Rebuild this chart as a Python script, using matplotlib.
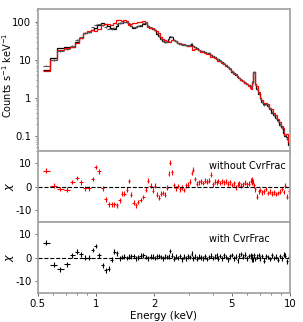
import numpy as np
import matplotlib
matplotlib.use('Agg')
import matplotlib.pyplot as plt
from matplotlib.ticker import FixedLocator, FixedFormatter, NullFormatter

plt.rcParams['axes.unicode_minus'] = False
plt.rcParams['font.family'] = 'DejaVu Sans'

# energy bin edges (keV)
edges = np.array([0.53, 0.58, 0.63, 0.68, 0.735, 0.775, 0.815, 0.86, 0.90, 0.94,
                  0.98, 1.015, 1.06, 1.10, 1.14, 1.185, 1.225, 1.26, 1.30, 1.345,
                  1.38, 1.42, 1.46, 1.50, 1.54, 1.585, 1.63, 1.67, 1.72, 1.78,
                  1.835, 1.885, 1.94, 1.985, 2.025, 2.08, 2.135, 2.185, 2.235, 2.285,
                  2.34, 2.39, 2.445, 2.50, 2.56, 2.62, 2.68, 2.74, 2.80, 2.865,
                  2.93, 3.0, 3.07, 3.14, 3.21, 3.285, 3.36, 3.44, 3.52, 3.60,
                  3.685, 3.77, 3.855, 3.945, 4.035, 4.13, 4.225, 4.32, 4.42, 4.52,
                  4.625, 4.73, 4.84, 4.95, 5.065, 5.18, 5.30, 5.42, 5.545, 5.675,
                  5.805, 5.94, 6.075, 6.215, 6.30, 6.36, 6.42, 6.48, 6.56, 6.65,
                  6.80, 6.96, 7.12, 7.28, 7.45, 7.62, 7.80, 7.98, 8.16, 8.35,
                  8.54, 8.74, 8.94, 9.15, 9.36, 9.57, 9.79, 10.0])

# observed spectrum (counts/s/keV)
counts = np.array([7.0, 9.8, 17.0, 19.0, 23.0, 33.0, 39.0, 50.0, 54.0, 71.0,
                   83.0, 85.0, 80.0, 72.0, 66.0, 64.0, 70.0, 85.0, 92.0, 95.0,
                   100.0, 98.0, 90.0, 78.0, 71.0, 72.0, 78.0, 80.0, 90.0, 92.0,
                   78.0, 71.0, 65.0, 60.0, 49.0, 42.0, 36.0, 31.0, 29.0,
                   30.0, 36.0, 42.0, 40.0, 33.0, 31.0, 28.0, 26.0, 25.0, 24.5,
                   24.3, 24.0, 24.5, 27.0, 23.0, 21.5, 20.0, 18.5, 17.3, 16.5,
                   15.8, 15.0, 15.2, 13.5, 12.5, 11.6, 10.9, 10.2, 9.6, 8.8,
                   8.0, 7.2, 6.5, 5.9, 5.0, 4.5, 4.1, 3.7, 3.35, 3.05,
                   2.8, 2.55, 2.35, 2.15, 2.0, 1.95, 2.6, 4.2, 4.8, 2.2,
                   1.7, 1.3, 0.95, 0.78, 0.66, 0.70, 0.62, 0.50, 0.43, 0.36,
                   0.30, 0.25, 0.20, 0.165, 0.135, 0.105, 0.085, 0.058])

# fractional errors
frac_err = np.array([0.04] * 39 + [0.03] * 44 + [0.04] * 10 + [0.05] * 8 + [0.08] * 6)

# residuals (chi) for both fits
res_without = np.array([6.7, 0.3, -1.1, -1.4, 1.9, 3.6, 1.7, -0.7, -0.7, 3.2,
                        8.3, 6.4, -0.7, -5.4, -7.6, -7.6, -7.6, -7.9, -5.9, -3.0,
                        -3.0, -1.4, 2.3, -3.5, -6.9, -7.9, -6.6, -5.7, -4.4, -1.4,
                        2.4, 0.3, -1.8, 0.3, -3.5, -4.8, -3.1, -2.7, -3.5,
                        -0.5, 5.4, 10.0, 6.0, 0.5, -0.8, 0.2, -1.2, -0.5, -1.5,
                        0.5, 0.8, 2.1, 5.7, 7.1, 3.2, 1.2, 1.8, 2.2, 1.5,
                        2.5, 2.0, 2.4, 5.0, 1.0, 2.0, 1.8, 2.3, 1.5, 2.2,
                        1.7, 2.0, 1.2, 1.8, 0.6, 1.4, -0.3, 0.8, 1.3, 0.4,
                        1.0, 1.6, 0.9, 1.2, 2.5, 3.0, 1.5, 2.2, 0.5, -1.2,
                        -4.3, -2.0, -1.5, -2.5, -2.0, -1.0, -2.8, -2.2, -3.0, -2.5,
                        -3.2, -2.7, -2.2, -1.0, -2.3, 0.3, -4.3, -2.0])
res_with = np.array([6.3, -3.0, -5.0, -2.8, 1.0, 2.4, 1.3, -0.1, -0.1, 3.2,
                     4.9, 1.0, -3.3, -5.4, -4.7, -0.9, 2.4, 1.7, -0.4, 0.2,
                     0.3, -0.2, 0.4, 0.5, 0.6, -0.3, 0.1, 0.8, 0.9, 0.2,
                     -0.3, 0.3, 0.4, -0.2, 0.5, 0.6, 0.2, -0.4, 0.3,
                     0.2, 0.5, 2.7, 0.8, -0.5, 0.3, -0.2, 0.6, -0.8, 0.4,
                     -0.3, 0.5, 0.2, 1.6, -0.4, 0.3, -0.5, 0.4, 0.1, -0.3,
                     0.5, -0.6, 0.2, 0.8, -0.2, 0.4, 0.9, -0.5, 0.6, -0.3,
                     1.0, 0.2, -0.7, 0.5, 1.1, -0.4, 0.3, -1.2, 0.7, 1.5,
                     0.4, 1.2, -0.3, 0.6, 1.0, -0.8, 0.4, -1.0, 0.9, -0.6,
                     0.3, 1.1, -0.4, 0.6, -1.3, 0.5, 0.2, -0.6, 0.9, -0.2,
                     0.4, -0.9, 0.6, -0.3, 1.2, 0.8, -1.6, 0.4])

cen = np.sqrt(edges[:-1] * edges[1:])
xerr = [cen - edges[:-1], edges[1:] - cen]
err = counts * frac_err
model_without = counts - res_without * err
model_with = counts - res_with * err

fig = plt.figure(figsize=(3.03, 3.22), dpi=100)
L, W = 0.1245, 0.8327
ax1 = fig.add_axes([L, 0.531, W, 0.441])
ax2 = fig.add_axes([L, 0.3106, W, 0.2204], sharex=ax1)
ax3 = fig.add_axes([L, 0.09, W, 0.2206], sharex=ax1)

ax1.errorbar(cen, counts, xerr=xerr, yerr=err, fmt='none', ecolor='0.35', elinewidth=0.8)
ax1.stairs(model_with, edges, baseline=None, color='k', lw=0.9)
ax1.stairs(model_without, edges, baseline=None, color='red', lw=0.9)
ax1.set_yscale('log')
ax1.set_ylim(0.04, 215)
ax1.set_yticks([0.1, 1, 10, 100])
ax1.set_yticklabels(['0.1', '1', '10', '100'])
ax1.set_ylabel('Counts s$^{-1}$ keV$^{-1}$', fontsize=7)
ax1.yaxis.set_label_coords(-0.094, 0.535)

ax2.errorbar(cen, res_without, xerr=xerr, yerr=np.ones_like(cen), fmt='none', ecolor='red', elinewidth=0.8)
ax2.text(0.83, 0.79, 'without CvrFrac', transform=ax2.transAxes, fontsize=7, ha='center', va='center')
ax3.errorbar(cen, res_with, xerr=xerr, yerr=np.ones_like(cen), fmt='none', ecolor='k', elinewidth=0.8)
ax3.text(0.80, 0.765, 'with CvrFrac', transform=ax3.transAxes, fontsize=7, ha='center', va='center')

for ax in (ax2, ax3):
    ax.axhline(0, color='k', ls='--', lw=0.8)
    ax.set_ylim(-15, 15)
    ax.set_yticks([-10, 0, 10])
    ax.set_ylabel('$\\chi$', fontsize=8)
    ax.yaxis.set_label_coords(-0.085, 0.5)

ax1.set_xscale('log')
ax1.set_xlim(0.5, 10)
for ax in (ax1, ax2, ax3):
    ax.xaxis.set_major_locator(FixedLocator([0.5, 1, 2, 5, 10]))
    ax.xaxis.set_major_formatter(FixedFormatter(['0.5', '1', '2', '5', '10']))
    ax.xaxis.set_minor_formatter(NullFormatter())
    ax.tick_params(labelsize=7.3, length=2.5, width=0.6, color='0.3', pad=2)
    ax.tick_params(which='minor', length=1.5, width=0.5, color='0.3')
    for s in ax.spines.values():
        s.set_color('0.65')
        s.set_linewidth(1.3)
for ax in (ax1, ax2):
    plt.setp(ax.get_xticklabels(), visible=False)
ax3.set_xlabel('Energy (keV)', fontsize=7.5, labelpad=1)

fig.savefig('out.png', dpi=100)
